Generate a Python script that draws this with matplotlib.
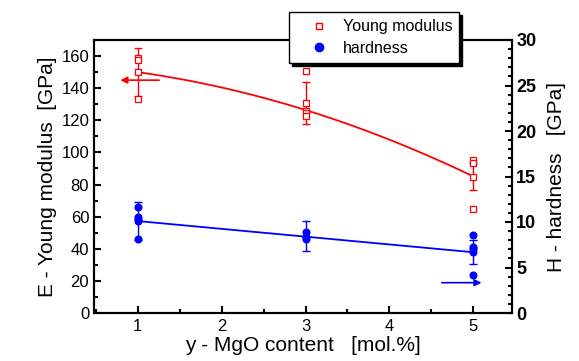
import numpy as np
import matplotlib
matplotlib.use("Agg")
import matplotlib.pyplot as plt
from matplotlib.ticker import MultipleLocator
from matplotlib.lines import Line2D

plt.rcParams['font.family'] = ['Liberation Sans', 'DejaVu Sans']

# MgO content (mol.%)
x_levels = [1, 3, 5]

# Individual Young modulus measurements [GPa]
E_x = [1, 1, 1, 1, 3, 3, 3, 3, 3, 5, 5, 5, 5]
E_vals = [158.6, 157.5, 150.0, 133.3, 150.9, 131.0, 125.8, 124.3, 122.7, 95.3, 93.6, 84.9, 64.6]
# Mean and error of Young modulus
E_mean = [150.0, 131.0, 85.0]
E_err = [14.8, 13.0, 8.4]
# Fit curve values of Young modulus at x = 1, 3, 5
E_fit = [150.0, 126.4, 85.0]

# Individual hardness measurements [GPa]
H_x = [1, 1, 1, 1, 1, 3, 3, 3, 5, 5, 5, 5, 5]
H_vals = [11.7, 10.6, 10.3, 10.1, 8.1, 8.9, 8.4, 8.1, 8.6, 7.3, 7.0, 6.7, 4.2]
H_mean = [10.1, 8.47, 6.67]
H_err = [2.05, 1.67, 1.33]
H_fit = [10.1, 8.4, 6.67]

xticks = [1, 2, 3, 4, 5]

fig = plt.figure(figsize=(5.79, 3.61), dpi=100)
ax = fig.add_axes([94/579, 48/361, (512-94)/579, (313-40)/361])
ax2 = ax.twinx()

red = '#ff0000'
blue = '#0000ff'

# Young modulus
ax.plot(E_x, E_vals, 's', mfc='white', mec=red, ms=4.3, mew=0.9, zorder=3)
ax.errorbar(x_levels, E_mean, yerr=E_err, fmt='none', ecolor=red, elinewidth=1, capsize=2.8, capthick=1, zorder=2)
cE = np.polyfit(x_levels, E_fit, 2)
xf = np.linspace(1, 5, 100)
ax.plot(xf, np.polyval(cE, xf), '-', color=red, lw=1.3, zorder=2)
ax.annotate('', xy=(0.76, 145), xytext=(1.29, 145),
            arrowprops=dict(arrowstyle='-|>', color=red, lw=1.2, mutation_scale=10))

# Hardness
ax2.plot(H_x, H_vals, 'o', color=blue, ms=4.8, zorder=3)
ax2.errorbar(x_levels, H_mean, yerr=H_err, fmt='none', ecolor=blue, elinewidth=1, capsize=2.8, capthick=1, zorder=2)
cH = np.polyfit(x_levels, H_fit, 1)
ax2.plot(xf, np.polyval(cH, xf), '-', color=blue, lw=1.3, zorder=2)
ax2.annotate('', xy=(5.13, 3.33), xytext=(4.59, 3.33),
             arrowprops=dict(arrowstyle='-|>', color=blue, lw=1.2, mutation_scale=10))

ax.set_xlim(0.48, 5.46)
ax.set_ylim(0, 170)
ax2.set_ylim(0, 30)
ax.set_xticks(xticks)
ax.xaxis.set_minor_locator(MultipleLocator(0.5))
ax.yaxis.set_major_locator(MultipleLocator(20))
ax.yaxis.set_minor_locator(MultipleLocator(10))
ax2.yaxis.set_major_locator(MultipleLocator(5))
ax2.yaxis.set_minor_locator(MultipleLocator(1))

for a in (ax, ax2):
    for s in a.spines.values():
        s.set_linewidth(1.5)
ax.tick_params(axis='both', which='both', direction='in', labelsize=12, width=1.5)
ax.tick_params(which='major', length=5)
ax.tick_params(which='minor', length=3)
ax.tick_params(axis='x', labelsize=12, pad=4)
ax2.tick_params(axis='y', which='both', direction='in', labelsize=13, width=1.5)
ax2.tick_params(axis='y', which='major', length=5, pad=3)
ax2.tick_params(axis='y', which='minor', length=3)
for lab in ax2.get_yticklabels():
    lab.set_fontweight('bold')

ax.set_xlabel('y - MgO content   [mol.%]', fontsize=15, labelpad=2)
ax.set_ylabel('E - Young modulus  [GPa]', fontsize=15, labelpad=3)
ax2.set_ylabel('H - hardness   [GPa]', fontsize=15, labelpad=8)

# Legend
handles = [Line2D([], [], ls='none', marker='s', mfc='white', mec=red, ms=5, mew=1),
           Line2D([], [], ls='none', marker='o', color=blue, ms=6)]
leg = fig.legend(handles, ['Young modulus', 'hardness'], loc='upper left',
                 bbox_to_anchor=(289/579, 1 - 12/361), fontsize=11.5, frameon=True,
                 fancybox=False, shadow={'color': 'black', 'alpha': 1},
                 borderpad=0.45, handletextpad=0.1, labelspacing=0.4, borderaxespad=0,
                 handlelength=2.8)
leg.get_frame().set_edgecolor('black')
leg.get_frame().set_linewidth(1.0)
leg.set_zorder(10)

fig.savefig('out.png', dpi=100)
